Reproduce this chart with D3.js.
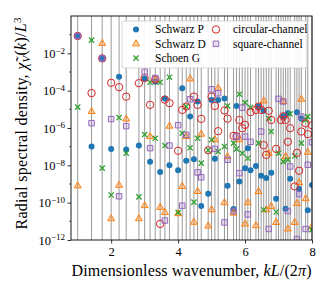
<!DOCTYPE html>
<html>
<head>
<meta charset="utf-8">
<script src="https://cdn.jsdelivr.net/npm/d3@7"></script>
<style>
  body { margin: 0; background: #fff; }
  text { font-family: "Liberation Serif", "DejaVu Serif", serif; }
</style>
</head>
<body>
<div id="chart"></div>
<script>
// shells: |k|^2 = n (sums of three squares), k = sqrt(n)
var shellN = [1, 2, 3, 4, 5, 6, 8, 9, 10, 11, 12, 13, 14, 16, 17, 18, 19, 20, 21, 22,
  24, 25, 26, 27, 29, 30, 32, 33, 34, 35, 36, 37, 38, 40, 41, 42, 43, 44, 45, 46,
  48, 49, 50, 51, 52, 53, 54, 56, 57, 58, 59, 61, 62, 64];

// log10 of spectral density on each shell (null = not visible)
var schwarzP = [-1.07, -6.99, -2.27, -7.12, -3.25, -7.15, -6.94, -3.35, -7.81, -3.52,
  -8.36, -4.42, -7.99, -8.26, -3.87, -7.76, -5.39, -7.67, -4.58, -10.18,
  -9.52, -4.50, -7.65, -4.50, -4.42, -9.09, -10.34, -4.82, -8.86, null,
  -8.15, -7.08, -8.26, -8.04, -4.85, -8.56, -5.07, -8.68, null, -8.40,
  -9.79, null, null, -5.37, -10.32, -5.21, -8.72, null, -5.16, -9.27,
  -5.49, null, -10.40, -9.06];
var schwarzD = [-9.10, -5.12, -1.47, -10.86, -9.07, -5.52, -10.86, -10.16, -6.46, -3.42,
  -10.25, -10.53, -5.90, -10.59, -9.13, -6.46, -3.37, -11.05, -9.40, -6.33,
  -11.25, -10.38, -6.63, -3.87, -10.00, -7.53, -10.56, null, -6.63, null,
  -11.14, -10.00, null, -11.23, -9.41, null, -4.55, -10.38, -7.35, -10.20,
  -11.06, null, null, -4.58, -7.53, -11.41, null, -11.06, -10.04, -8.93,
  -4.46, -9.79, -7.30, -11.30];
var schoenG = [-4.88, -1.29, -8.15, -9.59, -5.44, -7.35, -9.69, -6.35, -3.55, -6.55,
  -3.55, -6.94, -3.28, -10.53, -6.28, -4.85, -7.06, -9.97, -6.55, -7.88,
  -7.19, -6.63, null, -7.26, -6.99, -4.82, -6.81, -7.12, -4.19, -7.35,
  -4.64, -7.62, -4.91, null, -6.81, null, -10.38, null, -5.49, -6.19,
  -10.50, -7.35, null, -7.80, null, -7.70, -5.24, -7.50, null, null,
  -6.81, -5.57, -5.39, -11.45];
var circular = [-1.07, -4.13, -2.27, -3.58, -3.81, -4.32, -3.60, -3.32, -4.76, -3.40,
  -11.14, -4.48, -4.67, -7.22, -5.03, -4.85, null, -4.32, -4.76, -5.51,
  -7.19, -4.32, -4.82, -6.17, -5.06, -5.50, -6.42, -6.44, -5.57, -6.01,
  -5.83, null, -5.15, -5.03, -4.85, -5.03, -6.92, -7.44, -5.08, -5.57,
  -7.12, null, -5.57, -5.37, -5.57, -6.74, -6.01, -9.13, -7.33, -8.29,
  -6.19, -5.75, -6.33, -5.85];
var square = [-1.07, -5.74, -2.27, -5.52, -9.66, -5.90, null, -2.98, -7.08, -3.32,
  null, -10.96, -6.94, -5.85, -10.16, -6.37, -4.46, null, -8.38, -8.64,
  null, -3.93, -7.12, -4.14, -11.06, -7.70, -10.45, -6.46, -8.42, -4.91,
  -6.46, -10.63, -6.74, null, null, -6.19, null, null, -11.41, null,
  null, -4.44, null, -4.58, null, -10.45, -8.06, null, -11.95, -9.54,
  -5.39, -11.41, -7.97, -6.77];

var seriesNames = ["Schwarz P", "Schwarz D", "Schoen G", "circular-channel", "square-channel"];
var xTicks = [2, 4, 6, 8];
var yTickExp = [-12, -10, -8, -6, -4, -2];

var svgWidth = 332, svgHeight = 295;
var margin = { top: 16, right: 20, bottom: 55, left: 71 };
var width = svgWidth - margin.left - margin.right;
var height = svgHeight - margin.top - margin.bottom;

var svg = d3.select("#chart").append("svg")
  .attr("width", svgWidth)
  .attr("height", svgHeight);

var chartGroup = svg.append("g")
  .attr("transform", `translate(${margin.left}, ${margin.top})`);

var xScale = d3.scaleLinear().domain([0.8, 8]).range([0, width]);
var yScale = d3.scaleLog().domain([1e-12, 1]).range([height, 0]);

chartGroup.append("defs").append("clipPath").attr("id", "clip")
  .append("rect").attr("width", width).attr("height", height);

// shell lines
chartGroup.append("g").selectAll("line")
  .data(shellN)
  .enter().append("line")
  .attr("x1", d => xScale(Math.sqrt(d)))
  .attr("x2", d => xScale(Math.sqrt(d)))
  .attr("y1", 0).attr("y2", height)
  .attr("stroke", "#9a9a9a")
  .attr("stroke-width", 1);

// marker styles
var styles = [
  { color: "#1f77b4", shape: "dot" },
  { color: "#ff7f0e", shape: "tri" },
  { color: "#2ca02c", shape: "x" },
  { color: "#d62728", shape: "ring" },
  { color: "#9467bd", shape: "sq" }
];

function drawMarker(g, shape, color) {
  if (shape === "dot") {
    g.append("circle").attr("r", 3).attr("fill", color);
  } else if (shape === "ring") {
    g.append("circle").attr("r", 3.7).attr("fill", "none")
      .attr("stroke", color).attr("stroke-width", 1);
  } else if (shape === "tri") {
    g.append("path").attr("d", d3.symbol(d3.symbolTriangle, 21)())
      .attr("fill", "rgba(255,127,14,0.3)").attr("stroke", color).attr("stroke-width", 1);
  } else if (shape === "sq") {
    g.append("path").attr("d", d3.symbol(d3.symbolSquare, 30)())
      .attr("fill", "rgba(148,103,189,0.2)").attr("stroke", color).attr("stroke-width", 1);
  } else if (shape === "x") {
    g.append("path").attr("d", "M-2.6,-2.6L2.6,2.6M-2.6,2.6L2.6,-2.6")
      .attr("fill", "none").attr("stroke", color).attr("stroke-width", 1.3);
  }
}

var allSeries = [schwarzP, schwarzD, schoenG, circular, square];
var pointsGroup = chartGroup.append("g").attr("clip-path", "url(#clip)");

allSeries.forEach(function (vals, i) {
  var pts = shellN.map((n, j) => ({ k: Math.sqrt(n), v: vals[j] }))
    .filter(d => d.v !== null);
  pointsGroup.append("g").selectAll("g")
    .data(pts)
    .enter().append("g")
    .attr("transform", d => `translate(${xScale(d.k)}, ${yScale(Math.pow(10, d.v))})`)
    .each(function () { drawMarker(d3.select(this), styles[i].shape, styles[i].color); });
});

// axes
var bottomAxis = d3.axisBottom(xScale).tickValues(xTicks).tickSize(3.5).tickPadding(3.5)
  .tickFormat(d3.format("d"));
var xAxisG = chartGroup.append("g")
  .attr("transform", `translate(0, ${height})`)
  .call(bottomAxis);

var leftAxis = d3.axisLeft(yScale)
  .tickValues(yTickExp.map(e => Math.pow(10, e)))
  .tickSize(3.5).tickPadding(2.5)
  .tickFormat("");
var yAxisG = chartGroup.append("g").call(leftAxis);

// minor ticks on odd decades
chartGroup.append("g").selectAll("line")
  .data([-11, -9, -7, -5, -3, -1])
  .enter().append("line")
  .attr("x1", -2).attr("x2", 0)
  .attr("y1", d => yScale(Math.pow(10, d)))
  .attr("y2", d => yScale(Math.pow(10, d)))
  .attr("stroke", "#000").attr("stroke-width", 0.6);

[xAxisG, yAxisG].forEach(function (g) {
  g.select(".domain").remove();
  g.selectAll("text").attr("font-size", "12.5px").attr("fill", "#000")
    .attr("font-family", "'Liberation Serif', serif");
  g.selectAll("line").attr("stroke", "#000").attr("stroke-width", 0.8);
});

yAxisG.selectAll(".tick").each(function (d) {
  var t = d3.select(this).select("text");
  t.text("10");
  t.append("tspan")
    .attr("dy", "-0.45em")
    .attr("font-size", "9px")
    .text("\u2212" + Math.round(-Math.log10(d)));
});

// frame
chartGroup.append("rect")
  .attr("width", width).attr("height", height)
  .attr("fill", "none").attr("stroke", "#000").attr("stroke-width", 0.9);

// legend
var legend = chartGroup.append("g").attr("transform", "translate(51, 5)");
legend.append("rect")
  .attr("width", 185).attr("height", 47).attr("rx", 2)
  .attr("fill", "#fff").attr("fill-opacity", 0.92)
  .attr("stroke", "#cccccc").attr("stroke-width", 0.8);

seriesNames.forEach(function (name, i) {
  var col = i < 3 ? 0 : 1;
  var row = i < 3 ? i : i - 3;
  var item = legend.append("g")
    .attr("transform", `translate(${col === 0 ? 14 : 94}, ${8.5 + row * 14.3})`);
  drawMarker(item, styles[i].shape, styles[i].color);
  item.append("text")
    .attr("x", col === 0 ? 19 : 17)
    .attr("y", 3.8)
    .attr("font-size", "11.5px")
    .text(name);
});

// axis labels
chartGroup.append("text")
  .attr("x", width / 2)
  .attr("y", height + 35.5)
  .attr("text-anchor", "middle")
  .attr("font-size", "16px")
  .attr("textLength", 240)
  .attr("lengthAdjust", "spacing")
  .call(function (t) {
    t.append("tspan").text("Dimensionless wavenumber, ");
    t.append("tspan").attr("font-style", "italic").text("kL");
    t.append("tspan").text("/(2");
    t.append("tspan").attr("font-style", "italic").text("\u03c0");
    t.append("tspan").text(")");
  });

chartGroup.append("text")
  .attr("transform", "rotate(-90)")
  .attr("x", -107.5)
  .attr("y", -margin.left + 27)
  .attr("text-anchor", "middle")
  .attr("font-size", "16px")
  .attr("textLength", 212)
  .attr("lengthAdjust", "spacing")
  .call(function (t) {
    t.append("tspan").text("Radial spectral density, ");
    t.append("tspan").attr("font-style", "italic").text("\u03c7\u0303");
    t.append("tspan").attr("font-style", "italic").attr("font-size", "11px").attr("dy", "0.3em").text("V");
    t.append("tspan").attr("dy", "-0.3em").text("(");
    t.append("tspan").attr("font-style", "italic").text("k");
    t.append("tspan").text(")/");
    t.append("tspan").attr("font-style", "italic").text("L");
    t.append("tspan").attr("font-size", "11px").attr("dy", "-0.45em").text("3");
  });
</script>
</body>
</html>
